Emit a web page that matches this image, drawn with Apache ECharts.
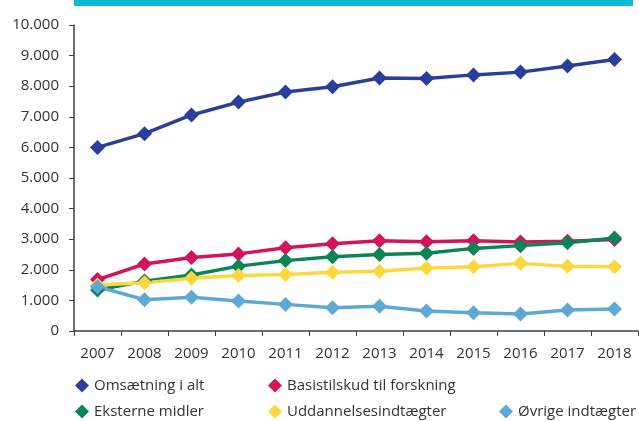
<!DOCTYPE html>
<html>
<head>
<meta charset="utf-8">
<script src="https://cdn.jsdelivr.net/npm/echarts@6/dist/echarts.min.js"></script>
<style>
  html, body { margin: 0; padding: 0; background: #fff; }
  #chart { width: 639px; height: 421px; }
</style>
</head>
<body>
<div id="chart"></div>
<script>
  // årstal
  const years = ['2007', '2008', '2009', '2010', '2011', '2012', '2013', '2014', '2015', '2016', '2017', '2018'];
  const seriesNames = ['Omsætning i alt', 'Basistilskud til forskning', 'Eksterne midler', 'Uddannelsesindtægter', 'Øvrige indtægter'];
  const omsaetning = [6000, 6450, 7060, 7480, 7810, 7980, 8270, 8250, 8370, 8460, 8660, 8870];
  const basistilskud = [1680, 2190, 2400, 2520, 2720, 2850, 2950, 2920, 2950, 2910, 2930, 2990];
  const eksterne = [1340, 1630, 1830, 2120, 2300, 2430, 2500, 2540, 2700, 2790, 2880, 3040];
  const uddannelse = [1500, 1580, 1720, 1810, 1850, 1920, 1950, 2060, 2100, 2210, 2120, 2100];
  const oevrige = [1450, 1020, 1100, 980, 870, 760, 810, 650, 600, 555, 690, 720];
  const colors = ['#2a3f9b', '#d4145a', '#0b8457', '#fcd83e', '#5ea9d4'];

  const chart = echarts.init(document.getElementById('chart'));
  const font = '"Open Sans", "Noto Sans", sans-serif';
  const dataList = [omsaetning, basistilskud, eksterne, uddannelse, oevrige];
  // legend placering (venstre, top) for hver serie
  const legendPos = [[75, 378], [268, 378], [75, 404], [268, 404], [499, 404]];

  function fmt(v) {
    return String(v).replace(/\B(?=(\d{3})+(?!\d))/g, '.');
  }

  chart.setOption({
    animation: false,
    color: colors,
    textStyle: { fontFamily: font },
    graphic: [{
      type: 'rect',
      shape: { x: 74, y: 0, width: 559, height: 6 },
      style: { fill: '#10b9d3' }
    }],
    legend: seriesNames.map((name, i) => ({
      left: legendPos[i][0],
      top: legendPos[i][1],
      data: [name],
      icon: 'diamond',
      itemWidth: 14,
      itemHeight: 14,
      padding: 0,
      textStyle: { color: '#333', fontSize: 15, fontFamily: font }
    })),
    grid: { left: 74, right: 1, top: 25, bottom: 90 },
    xAxis: {
      type: 'category',
      data: years,
      boundaryGap: true,
      axisLine: { lineStyle: { color: '#3a4250', width: 1.5 } },
      axisTick: { show: true, length: 5, lineStyle: { color: '#3a4250' } },
      axisLabel: { color: '#333', fontSize: 15, margin: 15, fontFamily: font }
    },
    yAxis: {
      type: 'value',
      min: 0,
      max: 10000,
      interval: 1000,
      splitLine: { show: false },
      axisLine: { show: true, lineStyle: { color: '#3a4250', width: 1.5 } },
      axisTick: { show: true, length: 5, lineStyle: { color: '#3a4250' } },
      axisLabel: { color: '#333', fontSize: 15, margin: 15, fontFamily: font, formatter: fmt }
    },
    series: seriesNames.map((name, i) => ({
      name: name,
      type: 'line',
      data: dataList[i],
      symbol: 'diamond',
      symbolSize: 15,
      lineStyle: { width: 3.5, color: colors[i] },
      itemStyle: { color: colors[i] }
    }))
  });
</script>
</body>
</html>
